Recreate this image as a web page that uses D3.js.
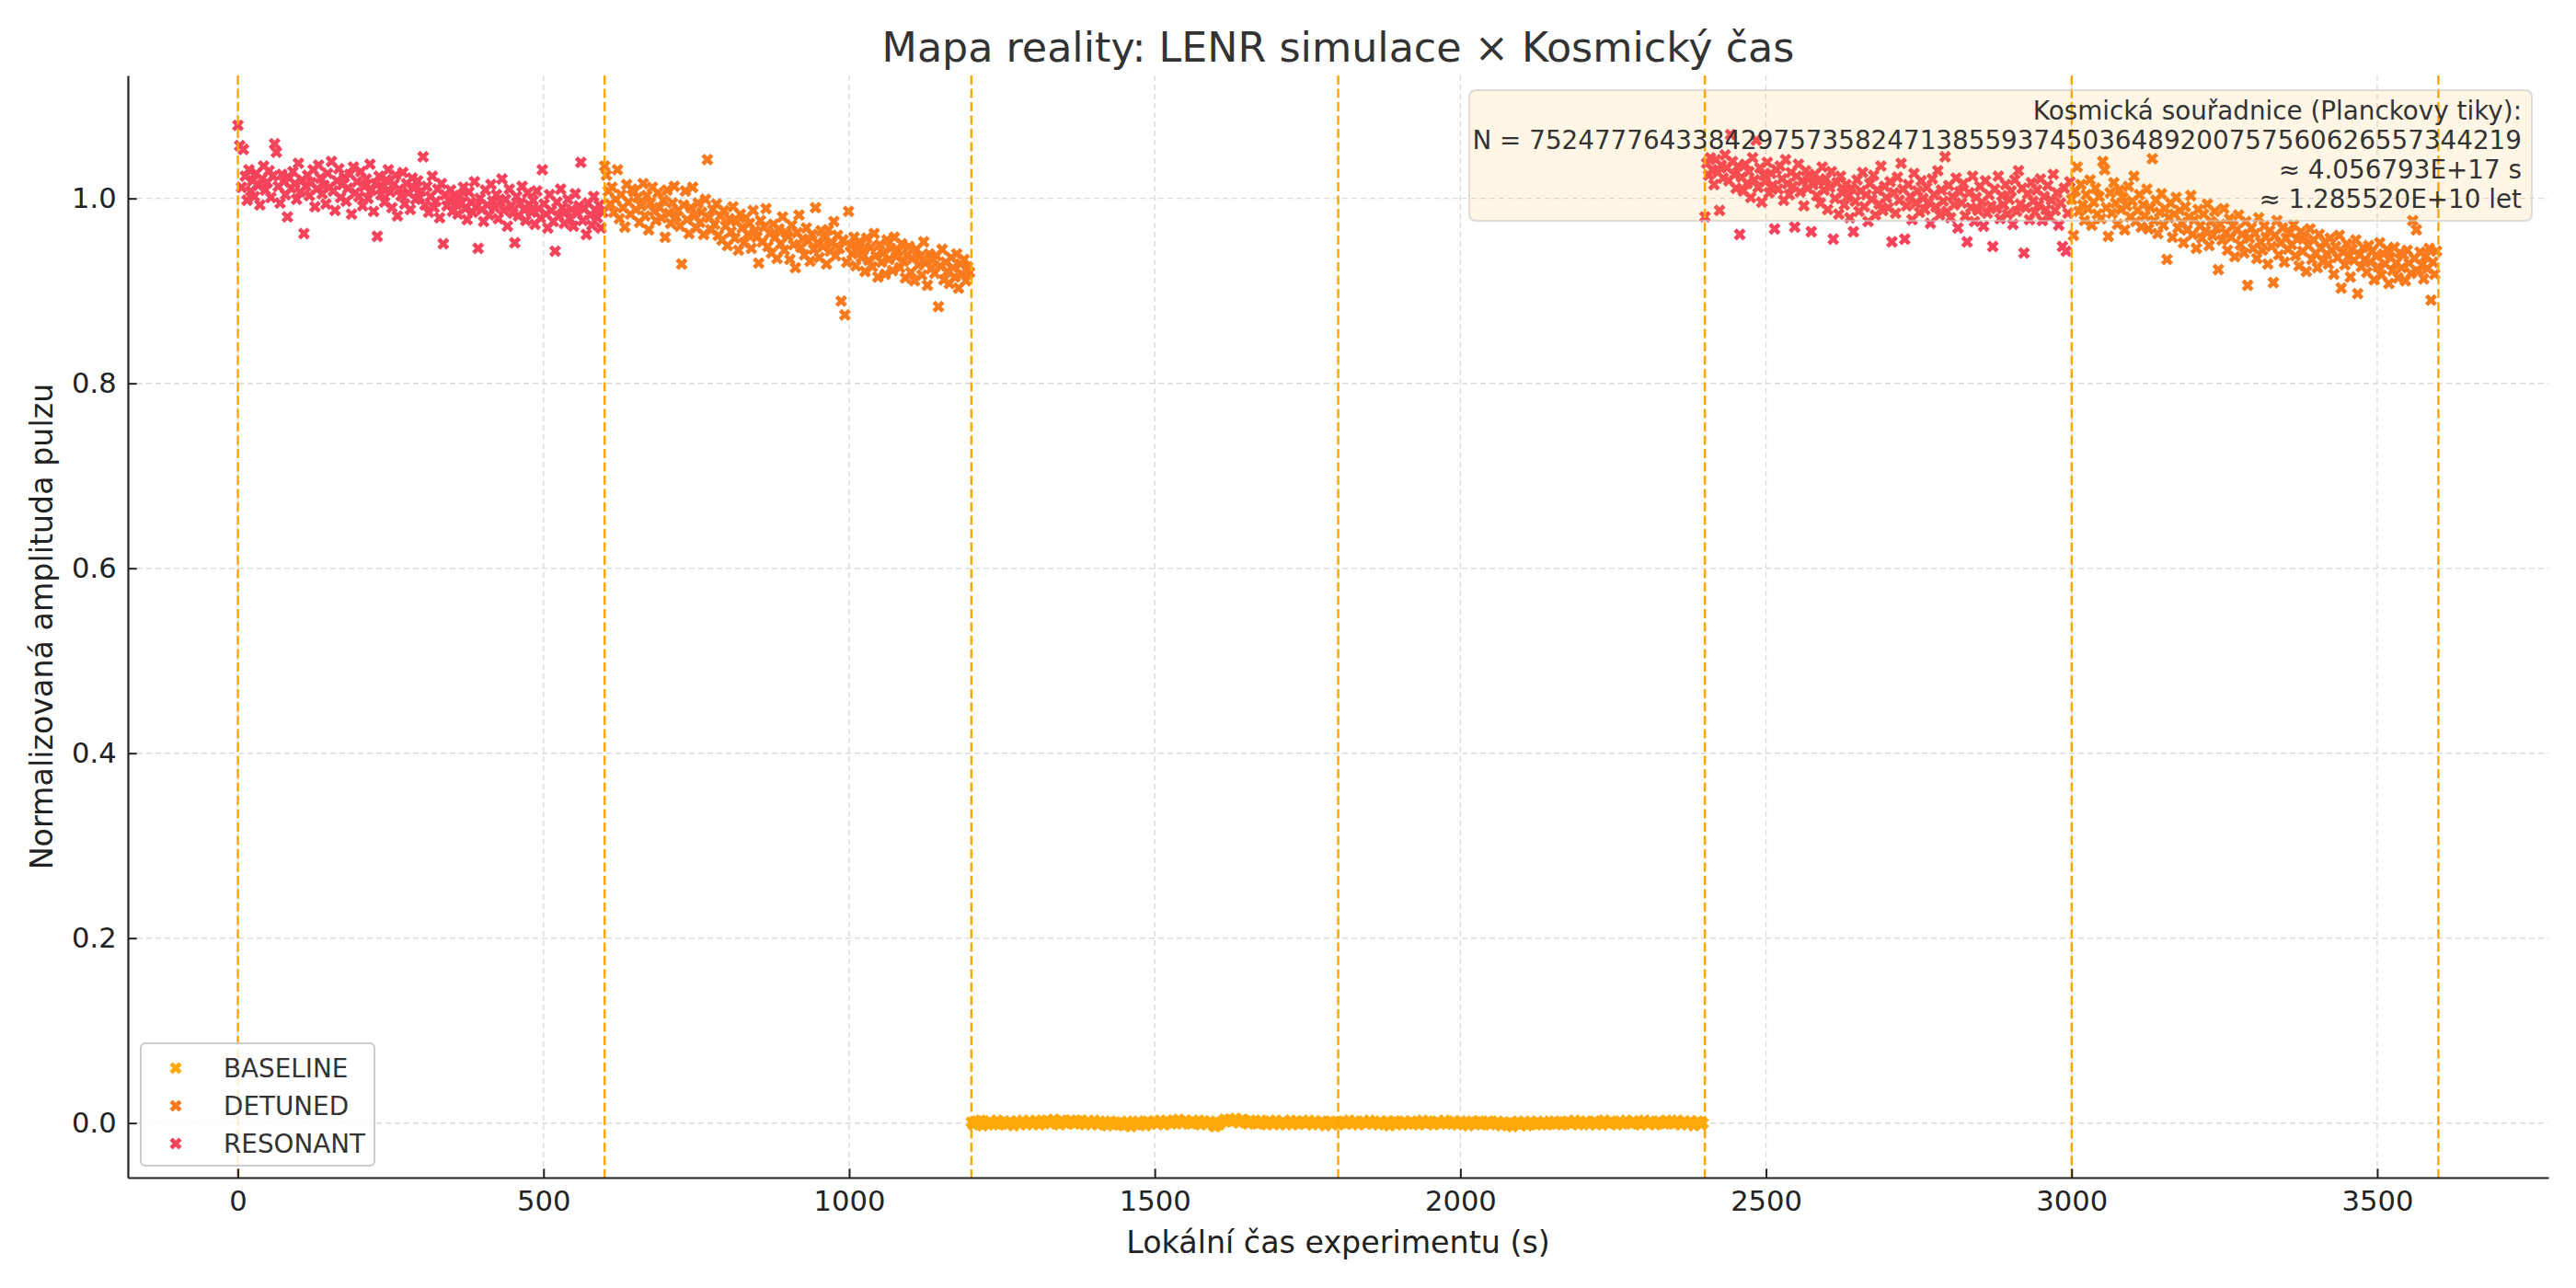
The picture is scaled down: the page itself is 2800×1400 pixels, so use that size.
<!DOCTYPE html>
<html>
<head>
<meta charset="utf-8">
<script src="https://cdn.jsdelivr.net/npm/d3@7"></script>
<style>
  body { margin: 0; background: #fff; }
  svg { font-family: "DejaVu Sans", sans-serif; }
</style>
</head>
<body>
<div id="vis"></div>
<script>
// Frame
const FRAME_WIDTH = 2800;
const FRAME_HEIGHT = 1400;
const MARGINS = {left: 139, right: 30, top: 82, bottom: 120};

// Data: one sample every SAMPLE_STEP seconds, starting at each phase start
const SAMPLE_STEP = 3;
const PHASE_LINES = [0, 600, 1200, 1800, 2400, 3000, 3600];
const X_TICKS = [0, 500, 1000, 1500, 2000, 2500, 3000, 3500];
const Y_TICKS = [0.0, 0.2, 0.4, 0.6, 0.8, 1.0];
const LEGEND_LABELS = ["BASELINE", "DETUNED", "RESONANT"];
const COLORS = {BASELINE: "#ffa90a", DETUNED: "#f97a1c", RESONANT: "#f5435b"};

// RESONANT, t = 0 .. 597
const RESONANT_1 = [
  1.079, 1.057, 1.012, 1.053, 1.024, 0.998, 1.031, 1.008, 1.019, 1.002, 1.027, 1.014, 0.993, 1.021, 1.035, 1.009, 1.017, 1.030, 1.001, 1.024,
  1.059, 1.050, 1.013, 0.995, 1.026, 1.018, 1.004, 0.980, 1.022, 1.011, 1.029, 1.016, 0.999, 1.038, 1.007, 1.020, 0.962, 1.013, 1.025, 1.003,
  1.017, 1.031, 0.991, 1.010, 1.036, 1.022, 1.005, 1.014, 0.994, 1.027, 1.012, 1.040, 1.008, 0.987, 1.019, 1.032, 1.001, 1.015, 1.023, 0.997,
  1.011, 1.026, 0.983, 1.034, 1.006, 1.018, 1.002, 1.029, 0.992, 1.013, 1.021, 1.000, 1.037, 1.009, 0.986, 1.016, 0.959, 1.024, 1.004, 1.012,
  0.996, 1.020, 1.031, 1.007, 0.990, 1.015, 1.025, 0.981, 1.010, 1.003, 1.028, 0.994, 1.016, 1.006, 0.988, 1.022, 1.011, 0.999, 1.019, 1.001,
  1.008, 1.045, 0.993, 1.013, 0.985, 1.002, 1.024, 0.990, 0.997, 1.010, 0.979, 1.016, 0.951, 1.004, 0.992, 0.998, 1.009, 0.986, 1.001, 0.994,
  0.983, 1.003, 0.995, 1.012, 0.989, 0.977, 1.007, 0.996, 0.985, 1.018, 0.991, 0.946, 1.000, 0.988, 0.975, 1.009, 0.993, 0.982, 1.015, 0.997,
  0.990, 1.004, 0.978, 0.996, 1.021, 0.987, 0.999, 0.970, 1.010, 0.992, 0.984, 0.952, 1.002, 0.981, 0.995, 1.013, 0.988, 0.976, 1.006, 0.993,
  0.985, 0.998, 0.972, 1.008, 0.989, 0.979, 1.031, 0.994, 0.983, 0.968, 1.004, 0.987, 0.975, 0.943, 0.996, 0.981, 1.010, 0.990, 0.973, 0.986,
  0.999, 0.978, 0.988, 0.970, 1.005, 0.984, 0.992, 1.039, 0.976, 0.989, 0.961, 0.995, 0.982, 0.971, 1.002, 0.987, 0.979, 0.993, 0.968, 0.985
];

// DETUNED, t = 600 .. 1197
const DETUNED_1 = [
  1.035, 1.025, 1.008, 0.994, 1.012, 0.985, 0.999, 1.031, 0.978, 1.004, 0.990, 0.969, 1.015, 0.996, 0.983, 1.010, 1.007, 0.988, 1.001, 0.974,
  0.992, 1.016, 0.981, 1.003, 0.966, 0.995, 1.012, 0.986, 0.976, 1.006, 0.990, 0.979, 0.998, 0.958, 1.009, 0.984, 0.973, 0.995, 1.013, 0.980,
  0.987, 0.970, 0.929, 0.993, 1.008, 0.977, 0.962, 0.990, 1.012, 0.981, 0.968, 0.995, 0.974, 0.985, 0.961, 0.999, 1.042, 0.979, 0.966, 0.988,
  0.972, 0.994, 0.960, 0.981, 0.955, 0.987, 0.970, 0.949, 0.978, 0.964, 0.991, 0.957, 0.975, 0.944, 0.983, 0.968, 0.952, 0.979, 0.961, 0.973,
  0.946, 0.987, 0.965, 0.958, 0.930, 0.976, 0.953, 0.969, 0.989, 0.948, 0.962, 0.941, 0.972, 0.958, 0.935, 0.967, 0.951, 0.980, 0.944, 0.963,
  0.959, 0.934, 0.971, 0.950, 0.925, 0.963, 0.982, 0.947, 0.956, 0.939, 0.968, 0.954, 0.932, 0.961, 0.945, 0.990, 0.952, 0.936, 0.965, 0.948,
  0.957, 0.929, 0.966, 0.943, 0.952, 0.975, 0.938, 0.960, 0.946, 0.889, 0.955, 0.874, 0.931, 0.986, 0.949, 0.940, 0.958, 0.927, 0.945, 0.953,
  0.936, 0.944, 0.921, 0.957, 0.933, 0.947, 0.926, 0.962, 0.938, 0.915, 0.950, 0.931, 0.941, 0.918, 0.955, 0.934, 0.946, 0.922, 0.958, 0.937,
  0.943, 0.925, 0.951, 0.932, 0.914, 0.939, 0.948, 0.920, 0.935, 0.911, 0.945, 0.928, 0.937, 0.917, 0.953, 0.930, 0.906, 0.940, 0.924, 0.933,
  0.919, 0.938, 0.883, 0.927, 0.945, 0.912, 0.931, 0.921, 0.908, 0.936, 0.925, 0.915, 0.940, 0.903, 0.929, 0.918, 0.934, 0.911, 0.926, 0.920
];

// BASELINE, t = 1200 .. 1797
const BASELINE_1 = [
  0.001, -0.002, 0.000, 0.002, -0.001, 0.003, -0.003, 0.001, 0.000, -0.002, 0.002, 0.001, -0.001, 0.000, 0.003, -0.002, 0.001, -0.001, 0.002, 0.000,
  -0.001, 0.002, 0.000, -0.003, 0.001, 0.002, -0.001, 0.000, 0.003, 0.001, -0.002, 0.000, 0.002, -0.001, 0.001, 0.003, 0.000, -0.002, 0.001, 0.002,
  0.000, 0.003, 0.001, -0.001, 0.002, 0.004, 0.000, 0.001, -0.002, 0.003, 0.002, 0.000, -0.001, 0.001, 0.003, 0.002, -0.001, 0.000, 0.002, 0.001,
  0.003, 0.000, -0.002, 0.001, 0.002, -0.001, 0.000, 0.003, 0.001, -0.002, 0.002, 0.000, -0.001, 0.001, -0.003, 0.000, 0.002, -0.002, 0.001, -0.001,
  0.000, -0.002, 0.001, -0.003, 0.000, 0.002, -0.001, -0.004, 0.001, 0.000, -0.002, 0.002, -0.001, 0.000, 0.001, -0.003, 0.002, 0.000, -0.001, 0.001,
  0.002, -0.001, 0.000, 0.003, 0.001, -0.002, 0.002, 0.000, 0.001, -0.001, 0.003, 0.002, 0.000, 0.004, 0.001, -0.001, 0.002, 0.003, 0.000, 0.001,
  -0.001, 0.002, 0.001, 0.000, 0.003, -0.002, 0.001, 0.002, 0.000, -0.001, 0.002, 0.001, -0.003, -0.004, 0.000, -0.002, 0.001, 0.002, 0.004, 0.003,
  0.002, 0.004, 0.001, 0.003, 0.005, 0.002, 0.000, 0.003, 0.004, 0.001, 0.002, -0.001, 0.003, 0.001, 0.000, 0.002, -0.001, 0.001, 0.003, 0.000,
  0.001, -0.002, 0.000, 0.002, 0.001, -0.001, 0.003, 0.000, -0.002, 0.001, 0.002, 0.000, -0.001, 0.001, 0.003, -0.002, 0.000, 0.002, -0.001, 0.001,
  0.000, 0.002, -0.001, 0.001, 0.003, 0.000, -0.002, 0.002, 0.001, -0.001, 0.000, 0.002, 0.001, -0.003, 0.000, 0.001, 0.002, -0.001, 0.001, 0.000
];

// BASELINE, t = 1800 .. 2397
const BASELINE_2 = [
  -0.002, 0.001, 0.000, 0.002, -0.001, 0.001, 0.003, 0.000, -0.001, 0.002, 0.001, -0.002, 0.000, 0.001, 0.002, -0.001, 0.000, 0.003, 0.001, -0.001,
  0.001, 0.000, -0.002, 0.002, 0.001, -0.001, 0.000, 0.002, -0.003, 0.001, 0.000, 0.002, -0.001, 0.001, 0.000, -0.002, 0.002, 0.001, -0.001, 0.000,
  0.002, -0.001, 0.001, 0.000, -0.002, 0.001, 0.003, 0.000, -0.001, 0.002, 0.000, 0.001, -0.002, 0.000, 0.002, 0.001, -0.001, 0.000, 0.003, -0.001,
  0.000, 0.001, -0.001, 0.002, 0.000, -0.002, 0.001, 0.002, -0.001, 0.000, 0.001, -0.003, 0.000, 0.002, -0.001, 0.001, 0.000, 0.002, -0.002, 0.001,
  -0.001, 0.000, 0.002, -0.002, 0.001, 0.000, -0.001, 0.002, 0.000, -0.003, 0.001, -0.001, 0.000, -0.002, 0.001, -0.004, 0.000, -0.001, 0.002, -0.002,
  0.000, -0.001, 0.001, -0.003, 0.000, 0.002, -0.001, 0.000, -0.002, 0.001, 0.000, -0.001, 0.002, 0.000, -0.002, 0.001, -0.001, 0.000, 0.002, -0.001,
  0.001, 0.000, -0.002, 0.001, -0.001, 0.002, 0.000, -0.001, 0.001, 0.003, 0.000, -0.002, 0.001, 0.000, -0.001, 0.002, 0.001, -0.002, 0.000, 0.001,
  0.002, -0.001, 0.000, 0.001, -0.002, 0.003, 0.001, 0.000, -0.001, 0.002, 0.000, 0.001, -0.002, 0.001, 0.002, -0.001, 0.000, 0.003, 0.001, 0.000,
  -0.001, 0.002, 0.001, 0.000, 0.002, -0.002, 0.001, 0.003, 0.000, -0.001, 0.002, 0.001, 0.000, -0.002, 0.001, 0.002, 0.000, 0.001, -0.001, 0.003,
  0.001, 0.000, 0.002, -0.001, 0.001, 0.003, 0.000, -0.002, 0.001, 0.002, 0.000, -0.001, 0.002, 0.001, -0.003, 0.000, 0.002, 0.001, -0.002, 0.000
];

// RESONANT, t = 2400 .. 2997
const RESONANT_2 = [
  0.980, 1.038, 1.025, 1.044, 1.031, 1.015, 1.042, 1.028, 0.987, 1.036, 1.022, 1.047, 1.033, 1.019, 1.069, 1.040, 1.026, 1.011, 1.035, 0.961,
  1.023, 1.008, 1.037, 1.016, 1.029, 1.001, 1.044, 1.020, 1.063, 1.012, 1.033, 0.996, 1.025, 1.018, 1.039, 1.006, 1.027, 1.014, 0.967, 1.031,
  1.010, 1.035, 1.021, 0.998, 1.042, 1.016, 1.004, 1.028, 1.013, 0.969, 1.024, 1.037, 1.007, 1.019, 0.992, 1.030, 1.011, 1.022, 0.964, 1.015,
  1.026, 1.003, 1.018, 0.995, 1.034, 1.009, 1.021, 0.988, 1.012, 1.029, 0.956, 1.000, 1.017, 0.983, 1.024, 1.006, 0.993, 1.015, 1.002, 0.979,
  1.011, 0.964, 0.997, 1.020, 0.986, 1.008, 1.028, 0.991, 1.004, 0.975, 1.016, 0.999, 1.025, 0.982, 1.009, 0.994, 1.035, 0.987, 1.013, 1.001,
  0.990, 1.018, 0.953, 1.006, 0.984, 1.023, 0.998, 1.038, 1.010, 0.956, 0.992, 1.015, 1.002, 0.977, 1.027, 0.995, 1.008, 0.985, 1.019, 1.000,
  0.988, 1.012, 0.996, 0.973, 1.021, 1.004, 0.991, 1.030, 0.982, 1.009, 0.997, 1.045, 0.986, 1.014, 0.979, 1.002, 0.993, 1.022, 0.968, 1.007,
  0.995, 1.016, 0.981, 0.953, 1.006, 0.990, 1.024, 0.975, 1.001, 0.987, 1.013, 0.996, 0.970, 1.019, 0.984, 1.004, 0.992, 0.948, 1.010, 0.989,
  1.024, 0.978, 1.003, 0.993, 1.015, 0.983, 0.999, 1.008, 0.972, 1.020, 0.986, 1.030, 0.994, 1.011, 0.941, 0.990, 1.005, 0.977, 1.017, 0.997,
  0.985, 1.009, 0.993, 1.021, 0.976, 1.002, 0.988, 1.014, 0.980, 0.998, 1.026, 0.987, 1.006, 0.971, 0.995, 0.948, 1.011, 0.943, 0.984, 1.018
];

// DETUNED, t = 3000 .. 3597
const DETUNED_2 = [
  0.999, 0.960, 1.008, 1.034, 0.986, 1.015, 0.993, 0.976, 1.004, 0.989, 1.020, 0.971, 0.996, 1.011, 0.983, 1.002, 0.978, 1.040, 1.031, 0.990,
  0.959, 1.006, 0.984, 1.017, 0.995, 0.972, 1.009, 0.988, 1.001, 0.966, 0.992, 1.013, 0.980, 0.997, 1.024, 0.975, 0.987, 1.004, 0.969, 0.993,
  0.981, 1.010, 0.967, 0.990, 1.043, 0.976, 0.998, 0.962, 0.985, 1.005, 0.971, 0.989, 0.934, 0.979, 0.995, 0.958, 0.983, 1.001, 0.968, 0.987,
  0.974, 0.952, 0.991, 0.966, 0.980, 1.003, 0.961, 0.977, 0.946, 0.988, 0.970, 0.957, 0.983, 0.965, 0.994, 0.949, 0.975, 0.960, 0.986, 0.968,
  0.923, 0.972, 0.955, 0.989, 0.963, 0.944, 0.978, 0.958, 0.970, 0.937, 0.966, 0.982, 0.950, 0.961, 0.941, 0.975, 0.906, 0.957, 0.968, 0.946,
  0.962, 0.935, 0.979, 0.953, 0.944, 0.970, 0.958, 0.929, 0.965, 0.948, 0.909, 0.960, 0.976, 0.939, 0.952, 0.968, 0.931, 0.957, 0.945, 0.963,
  0.950, 0.971, 0.938, 0.956, 0.927, 0.964, 0.943, 0.958, 0.921, 0.949, 0.967, 0.934, 0.955, 0.941, 0.925, 0.961, 0.946, 0.932, 0.953, 0.940,
  0.929, 0.957, 0.944, 0.918, 0.948, 0.936, 0.960, 0.903, 0.942, 0.928, 0.951, 0.937, 0.915, 0.945, 0.933, 0.955, 0.897, 0.939, 0.926, 0.947,
  0.934, 0.920, 0.949, 0.931, 0.943, 0.912, 0.938, 0.926, 0.952, 0.917, 0.940, 0.929, 0.945, 0.908, 0.936, 0.922, 0.947, 0.930, 0.914, 0.941,
  0.925, 0.939, 0.911, 0.944, 0.930, 0.919, 0.976, 0.935, 0.966, 0.921, 0.942, 0.928, 0.913, 0.937, 0.924, 0.946, 0.890, 0.931, 0.918, 0.943
];

const INFO_LINES = [
  "Kosmická souřadnice (Planckovy tiky):",
  "N = 7524777643384297573582471385593745036489200757560626557344219",
  "≈ 4.056793E+17 s",
  "≈ 1.285520E+10 let"
];

// phases in drawing order
const PHASES = [
  {label: "RESONANT", start: 0,    values: RESONANT_1},
  {label: "DETUNED",  start: 600,  values: DETUNED_1},
  {label: "BASELINE", start: 1200, values: BASELINE_1},
  {label: "BASELINE", start: 1800, values: BASELINE_2},
  {label: "RESONANT", start: 2400, values: RESONANT_2},
  {label: "DETUNED",  start: 3000, values: DETUNED_2}
];

const VIS_WIDTH = FRAME_WIDTH - MARGINS.left - MARGINS.right;
const VIS_HEIGHT = FRAME_HEIGHT - MARGINS.top - MARGINS.bottom;

const FRAME = d3.select("#vis")
                .append("svg")
                  .attr("width", FRAME_WIDTH)
                  .attr("height", FRAME_HEIGHT);

const X_SCALE = d3.scaleLinear()
                  .domain([-180, 3780])
                  .range([MARGINS.left, MARGINS.left + VIS_WIDTH]);

const Y_SCALE = d3.scaleLinear()
                  .domain([-0.059, 1.133])
                  .range([MARGINS.top + VIS_HEIGHT, MARGINS.top]);

// grid
FRAME.append("g")
  .selectAll("line")
  .data(X_TICKS)
  .enter()
  .append("line")
    .attr("x1", d => X_SCALE(d)).attr("x2", d => X_SCALE(d))
    .attr("y1", MARGINS.top).attr("y2", MARGINS.top + VIS_HEIGHT)
    .attr("stroke", "#dcdcdc").attr("stroke-width", 1.4)
    .attr("stroke-dasharray", "6,4");

FRAME.append("g")
  .selectAll("line")
  .data(Y_TICKS)
  .enter()
  .append("line")
    .attr("x1", MARGINS.left).attr("x2", MARGINS.left + VIS_WIDTH)
    .attr("y1", d => Y_SCALE(d)).attr("y2", d => Y_SCALE(d))
    .attr("stroke", "#dcdcdc").attr("stroke-width", 1.4)
    .attr("stroke-dasharray", "6,4");

// X-shaped marker
const MARKER = d3.symbol().type(d3.symbolCross).size(108);

PHASES.forEach(p => {
  const pts = p.values.map((v, i) => ({t: p.start + i * SAMPLE_STEP, v: v}));
  FRAME.append("g")
    .selectAll("path")
    .data(pts)
    .enter()
    .append("path")
      .attr("d", MARKER)
      .attr("transform", d => "translate(" + X_SCALE(d.t) + "," + Y_SCALE(d.v) + ") rotate(45)")
      .attr("fill", COLORS[p.label]);
});

// phase boundaries
FRAME.append("g")
  .selectAll("line")
  .data(PHASE_LINES)
  .enter()
  .append("line")
    .attr("x1", d => X_SCALE(d)).attr("x2", d => X_SCALE(d))
    .attr("y1", MARGINS.top).attr("y2", MARGINS.top + VIS_HEIGHT)
    .attr("stroke", "#ffa500").attr("stroke-width", 2.4)
    .attr("stroke-dasharray", "10,4.5");

// axes
const X_AXIS = FRAME.append("g")
  .attr("transform", "translate(0," + (MARGINS.top + VIS_HEIGHT) + ")")
  .call(d3.axisBottom(X_SCALE).tickValues(X_TICKS).tickSize(-9.7).tickSizeOuter(0).tickPadding(14)
          .tickFormat(d3.format("d")));

const Y_AXIS = FRAME.append("g")
  .attr("transform", "translate(" + MARGINS.left + ",0)")
  .call(d3.axisLeft(Y_SCALE).tickValues(Y_TICKS).tickSize(-9.7).tickSizeOuter(0).tickPadding(12.3)
          .tickFormat(d3.format(".1f")));

[X_AXIS, Y_AXIS].forEach(a => {
  a.attr("font-family", "DejaVu Sans").attr("font-size", "30.6px");
  a.select(".domain").attr("stroke", "#222").attr("stroke-width", 2.2);
  a.selectAll(".tick line").attr("stroke", "#222").attr("stroke-width", 2);
  a.selectAll(".tick text").attr("fill", "#222");
});

// annotation box (drawn over the points)
const BOX = {x: 1597, y: 98, w: 1155, h: 142};
FRAME.append("rect")
  .attr("x", BOX.x).attr("y", BOX.y)
  .attr("width", BOX.w).attr("height", BOX.h)
  .attr("rx", 7)
  .attr("fill", "#ffa500").attr("fill-opacity", 0.1)
  .attr("stroke", "#c8c8c8").attr("stroke-opacity", 0.6).attr("stroke-width", 2);

FRAME.append("g")
  .selectAll("text")
  .data(INFO_LINES)
  .enter()
  .append("text")
    .attr("x", 2741)
    .attr("y", (d, i) => 129.5 + i * 32)
    .attr("text-anchor", "end")
    .attr("font-size", "27.8px")
    .attr("fill", "#333")
    .text(d => d);

// legend
const LEGEND = FRAME.append("g");
LEGEND.append("rect")
  .attr("x", 153).attr("y", 1134)
  .attr("width", 254).attr("height", 133)
  .attr("rx", 5)
  .attr("fill", "#fff").attr("fill-opacity", 0.8)
  .attr("stroke", "#cccccc").attr("stroke-width", 2);

LEGEND_LABELS.forEach((lab, i) => {
  const cy = 1161 + i * 41;
  LEGEND.append("path")
    .attr("d", MARKER)
    .attr("transform", "translate(191," + cy + ") rotate(45)")
    .attr("fill", COLORS[lab]);
  LEGEND.append("text")
    .attr("x", 243).attr("y", cy + 10)
    .attr("font-size", "27.8px")
    .attr("fill", "#333")
    .text(lab);
});

// titles
FRAME.append("text")
  .attr("x", MARGINS.left + VIS_WIDTH / 2).attr("y", 67)
  .attr("text-anchor", "middle")
  .attr("font-size", "44.4px")
  .attr("fill", "#333")
  .text("Mapa reality: LENR simulace × Kosmický čas");

FRAME.append("text")
  .attr("x", MARGINS.left + VIS_WIDTH / 2).attr("y", 1362)
  .attr("text-anchor", "middle")
  .attr("font-size", "33.3px")
  .attr("fill", "#222")
  .text("Lokální čas experimentu (s)");

FRAME.append("text")
  .attr("transform", "translate(57," + (MARGINS.top + VIS_HEIGHT / 2) + ") rotate(-90)")
  .attr("text-anchor", "middle")
  .attr("font-size", "33.3px")
  .attr("fill", "#222")
  .text("Normalizovaná amplituda pulzu");
</script>
</body>
</html>
